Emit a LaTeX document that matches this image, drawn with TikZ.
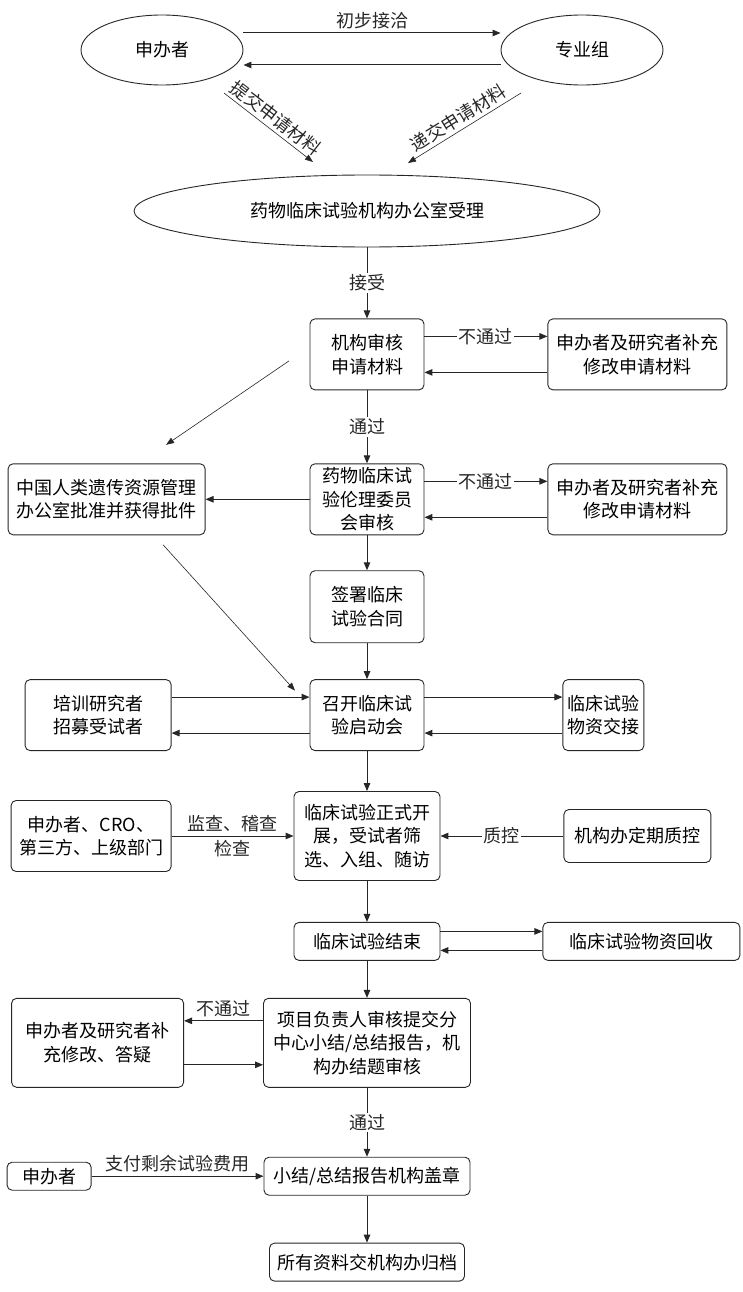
\documentclass[tikz,border=0pt]{standalone}
\usepackage{fontspec}
\setmainfont{Noto Sans CJK SC}
\usepackage{tikz}
\usetikzlibrary{shapes.geometric, arrows.meta, positioning, calc}
\tikzset{
    flowbox/.style={rectangle, rounded corners=5pt, draw=black!85, line width=0.9pt,
        align=center, inner xsep=3pt, inner ysep=2pt, font=\fontsize{18}{23.5}\selectfont},
    ovalnode/.style={ellipse, draw=black!85, line width=0.9pt, inner sep=0pt,
        font=\fontsize{18}{23.5}\selectfont},
    flowarrow/.style={-{Stealth[length=8pt, width=6.5pt, inset=0pt]}, line width=1pt, black!85},
    slimarrow/.style={-{Stealth[length=8pt, width=6pt, inset=0pt]}, line width=0.6pt, black!85},
    passlabel/.style={fill=white, inner sep=1.5pt, font=\fontsize{18}{23.5}\selectfont},
    sidelabel/.style={font=\fontsize{18}{23.5}\selectfont},
}

\begin{document}
\begin{tikzpicture}[x=1pt, y=1pt]
    \useasboundingbox (0,0) rectangle (742,-1292);

    % top: sponsor, expert group, office
    \node[ovalnode, minimum width=162pt, minimum height=70pt] (sponsor) at (162,-50) {申办者};
    \node[ovalnode, minimum width=162pt, minimum height=70pt] (expert) at (582,-50) {专业组};
    \node[ovalnode, minimum width=466pt, minimum height=72pt] (office) at (367,-211) {药物临床试验机构办公室受理};

    \draw[flowarrow] ([yshift=17pt]sponsor.east) -- node[sidelabel, above] {初步接洽} ([yshift=17pt]expert.west);
    \draw[flowarrow] ([yshift=-15pt]expert.west) -- ([yshift=-15pt]sponsor.east);

    \coordinate (submitA) at ($(sponsor.center)+(62,-43)$);
    \coordinate (submitB) at ($(office.center)+(-54,49)$);
    \coordinate (handA) at ($(expert.center)+(-61,-43)$);
    \coordinate (handB) at ($(office.center)+(41,48)$);
    \draw[slimarrow] (submitA) -- node[sidelabel, sloped, above] {提交申请材料} (submitB);
    \draw[slimarrow] (handA) -- node[sidelabel, sloped, above] {递交申请材料} (handB);

    % main column
    \node[flowbox, minimum width=114pt, minimum height=71pt, below=71pt of office] (audit) {机构审核\\申请材料};
    \node[flowbox, minimum width=179pt, minimum height=71pt, right=123pt of audit] (fixA) {申办者及研究者补充\\修改申请材料};

    \node[flowbox, minimum width=114pt, minimum height=71pt, below=73pt of audit] (ethics) {药物临床试\\验伦理委员\\会审核};
    \node[flowbox, minimum width=179pt, minimum height=71pt, right=123pt of ethics] (fixB) {申办者及研究者补充\\修改申请材料};
    \node[flowbox, minimum width=197pt, minimum height=71pt, left=104pt of ethics] (genetic) {中国人类遗传资源管理\\办公室批准并获得批件};

    \node[flowbox, minimum width=114pt, minimum height=72pt, below=35pt of ethics] (contract) {签署临床\\试验合同};

    \node[flowbox, minimum width=114pt, minimum height=71pt, below=36pt of contract] (kickoff) {召开临床试\\验启动会};
    \node[flowbox, minimum width=146pt, minimum height=71pt, left=138pt of kickoff] (train) {培训研究者\\招募受试者};
    \node[flowbox, minimum width=81pt, minimum height=71pt, right=138pt of kickoff] (supply) {临床试验\\物资交接};

    \node[flowbox, minimum width=146pt, minimum height=89pt, below=40pt of kickoff] (conduct) {临床试验正式开\\展，受试者筛\\选、入组、随访};
    \node[flowbox, minimum width=160pt, minimum height=71pt, left=122pt of conduct] (monitor) {申办者、CRO、\\第三方、上级部门};
    \node[flowbox, minimum width=147pt, minimum height=53pt, right=123pt of conduct] (qc) {机构办定期质控};

    \node[flowbox, minimum width=146pt, minimum height=38pt, below=41pt of conduct] (finish) {临床试验结束};
    \node[flowbox, minimum width=197pt, minimum height=38pt, right=102pt of finish] (recycle) {临床试验物资回收};

    \node[flowbox, minimum width=207pt, minimum height=89pt, below=37pt of finish] (review) {项目负责人审核提交分\\中心小结/总结报告，机\\构办结题审核};
    \node[flowbox, minimum width=172pt, minimum height=89pt, left=79pt of review] (fixC) {申办者及研究者补\\充修改、答疑};

    \node[flowbox, minimum width=206pt, minimum height=38pt, below=69pt of review] (seal) {小结/总结报告机构盖章};
    \node[flowbox, minimum width=84pt, minimum height=28pt, left=172pt of seal] (payer) {申办者};

    \node[flowbox, minimum width=195pt, minimum height=38pt, below=47pt of seal] (archive) {所有资料交机构办归档};

    % main flow
    \draw[flowarrow] (office) -- node[passlabel] {接受} (audit);
    \draw[flowarrow] (audit) -- node[passlabel] {通过} (ethics);
    \draw[flowarrow] (ethics) -- (contract);
    \draw[flowarrow] (contract) -- (kickoff);
    \draw[flowarrow] (kickoff) -- (conduct);
    \draw[flowarrow] (conduct) -- (finish);
    \draw[flowarrow] (finish) -- (review);
    \draw[flowarrow] (review) -- node[passlabel] {通过} (seal);
    \draw[flowarrow] (seal) -- (archive);

    % side loops
    \draw[flowarrow] ([yshift=18pt]audit.east) -- node[passlabel] {不通过} ([yshift=18pt]audit.east -| fixA.west);
    \draw[flowarrow] ([yshift=-18pt]fixA.west) -- ([yshift=-18pt]fixA.west -| audit.east);
    \draw[flowarrow] ([yshift=18pt]ethics.east) -- node[passlabel] {不通过} ([yshift=18pt]ethics.east -| fixB.west);
    \draw[flowarrow] ([yshift=-18pt]fixB.west) -- ([yshift=-18pt]fixB.west -| ethics.east);
    \draw[flowarrow] (ethics.west) -- (genetic.east);

    \coordinate (geneA) at ($(audit.center)+(-78,-6.5)$);
    \coordinate (geneB) at ($(genetic.center)+(59.5,54.5)$);
    \coordinate (geneC) at ($(genetic.center)+(56.5,-45.5)$);
    \coordinate (geneD) at ($(kickoff.center)+(-72,24.5)$);
    \draw[slimarrow] (geneA) -- (geneB);
    \draw[slimarrow] (geneC) -- (geneD);

    \draw[flowarrow] ([yshift=18pt]train.east) -- ([yshift=18pt]train.east -| kickoff.west);
    \draw[flowarrow] ([yshift=-18pt]kickoff.west) -- ([yshift=-18pt]kickoff.west -| train.east);
    \draw[flowarrow] ([yshift=18pt]kickoff.east) -- ([yshift=18pt]kickoff.east -| supply.west);
    \draw[flowarrow] ([yshift=-18pt]supply.west) -- ([yshift=-18pt]supply.west -| kickoff.east);

    \draw[flowarrow] (monitor.east) -- node[sidelabel, above] {监查、稽查} node[sidelabel, below] {检查} (conduct.west);
    \draw[flowarrow] (qc.west) -- node[passlabel] {质控} (conduct.east);

    \draw[flowarrow] ([yshift=10pt]finish.east) -- ([yshift=10pt]finish.east -| recycle.west);
    \draw[flowarrow] ([yshift=-9pt]recycle.west) -- ([yshift=-9pt]recycle.west -| finish.east);

    \draw[flowarrow] ([yshift=22pt]review.west) -- node[sidelabel, above] {不通过} ([yshift=22pt]review.west -| fixC.east);
    \draw[flowarrow] ([yshift=-22pt]fixC.east) -- ([yshift=-22pt]fixC.east -| review.west);

    \draw[flowarrow] (payer.east) -- node[sidelabel, above] {支付剩余试验费用} (seal.west);
\end{tikzpicture}
\end{document}
